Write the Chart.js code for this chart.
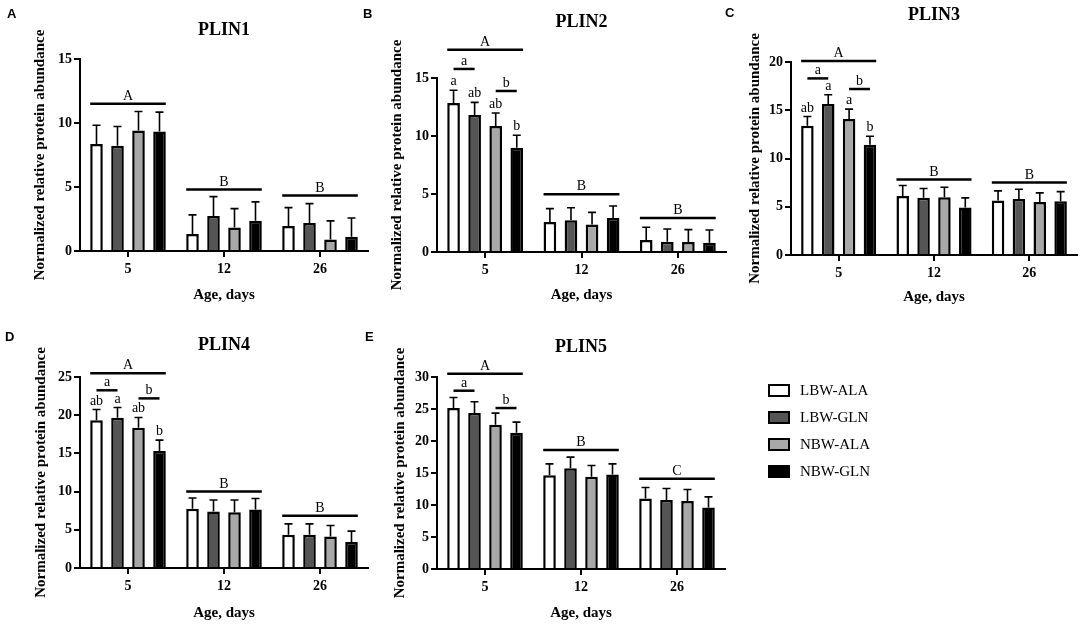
<!DOCTYPE html>
<html lang="en">
<head>
<meta charset="UTF-8">
<title>PLIN1-5 normalized relative protein abundance</title>
<script src="https://cdn.jsdelivr.net/npm/chart.js"></script>
<style>
  body { margin: 0; background: #fff; }
  #page { position: relative; width: 1084px; height: 631px; overflow: hidden; }
  #page canvas { position: absolute; left: 0; top: 0; }
  .tag { position: absolute; font: bold 13px/13px "Liberation Sans", Arial, sans-serif; color: #000; }
  #legend { position: absolute; left: 768px; top: 377px; font: 15px "Liberation Serif", "Times New Roman", serif; color: #000; }
  .item { display: flex; align-items: center; height: 27px; }
  .box { width: 18px; height: 9px; border: 2.5px solid #000; margin-right: 10px; }
</style>
</head>
<body>
<div id="page">
  <canvas id="c1" width="1084" height="631"></canvas>
  <canvas id="c2" width="1084" height="631"></canvas>
  <canvas id="c3" width="1084" height="631"></canvas>
  <canvas id="c4" width="1084" height="631"></canvas>
  <canvas id="c5" width="1084" height="631"></canvas>

  <div class="tag" style="left:7px;top:7px">A</div>
  <div class="tag" style="left:363px;top:7px">B</div>
  <div class="tag" style="left:725px;top:6px">C</div>
  <div class="tag" style="left:5px;top:330px">D</div>
  <div class="tag" style="left:365px;top:330px">E</div>

  <div id="legend"></div>
</div>

<script>
  // categories and groups
  const days = ['5', '12', '26'];
  const groups = ['LBW-ALA', 'LBW-GLN', 'NBW-ALA', 'NBW-GLN'];
  const fills = ['#ffffff', '#555555', '#a8a8a8', '#000000'];

  // means per group (rows) for day 5, 12, 26 ; sem likewise
  const plin1Mean = [[8.35, 1.33, 1.96], [8.22, 2.74, 2.19], [9.42, 1.83, 0.89], [9.34, 2.37, 1.12]];
  const plin1Sem  = [[1.48, 1.49, 1.43], [1.51, 1.51, 1.51], [1.48, 1.48, 1.46], [1.51, 1.47, 1.46]];
  const plin2Mean = [[12.84, 2.59, 1.03], [11.81, 2.73, 0.89], [10.86, 2.36, 0.86], [8.99, 2.93, 0.80]];
  const plin2Sem  = [[1.10, 1.15, 1.10], [1.09, 1.09, 1.09], [1.12, 1.06, 1.07], [1.07, 1.04, 1.10]];
  const plin3Mean = [[13.39, 6.12, 5.64], [15.64, 5.92, 5.81], [14.10, 5.99, 5.50], [11.42, 4.91, 5.57]];
  const plin3Sem  = [[0.96, 1.08, 1.00], [0.96, 0.97, 1.01], [1.02, 1.03, 0.94], [0.88, 1.01, 1.00]];
  const plin4Mean = [[19.35, 7.74, 4.35], [19.65, 7.39, 4.35], [18.35, 7.30, 4.13], [15.30, 7.65, 3.39]];
  const plin4Sem  = [[1.39, 1.43, 1.43], [1.35, 1.52, 1.43], [1.35, 1.61, 1.44], [1.44, 1.44, 1.44]];
  const plin5Mean = [[25.15, 14.66, 11.00], [24.36, 15.75, 10.80], [22.53, 14.40, 10.64], [21.28, 14.76, 9.60]];
  const plin5Sem  = [[1.65, 1.77, 1.73], [1.77, 1.73, 1.77], [1.83, 1.77, 1.78], [1.67, 1.67, 1.67]];

  // significance lines: [text, day index, from group, to group, y value]
  const plin1Sig = [['A', 0, 0, 3, 11.5], ['B', 1, 0, 3, 4.8], ['B', 2, 0, 3, 4.33]];
  const plin2Sig = [['A', 0, 0, 3, 17.44], ['a', 0, 0, 1, 15.78], ['b', 0, 2, 3, 13.88], ['B', 1, 0, 3, 4.97], ['B', 2, 0, 3, 2.93]];
  const plin3Sig = [['A', 0, 0, 3, 20.1], ['a', 0, 0, 1, 18.3], ['b', 0, 2, 3, 17.2], ['B', 1, 0, 3, 7.82], ['B', 2, 0, 3, 7.51]];
  const plin4Sig = [['A', 0, 0, 3, 25.5], ['a', 0, 0, 1, 23.26], ['b', 0, 2, 3, 22.2], ['B', 1, 0, 3, 10.0], ['B', 2, 0, 3, 6.83]];
  const plin5Sig = [['A', 0, 0, 3, 30.5], ['a', 0, 0, 1, 27.86], ['b', 0, 2, 3, 25.15], ['B', 1, 0, 3, 18.6], ['C', 2, 0, 3, 14.1]];

  // letters over the day-5 bars
  const plin2Letters = ['a', 'ab', 'ab', 'b'];
  const plin3Letters = ['ab', 'a', 'a', 'b'];
  const plin4Letters = ['ab', 'a', 'ab', 'b'];

  const serif = '"Liberation Serif", "Times New Roman", serif';
  Chart.defaults.font.family = serif;
  Chart.defaults.color = '#000';

  // error bars, significance lines, letters and panel title
  const marks = {
    id: 'marks',
    afterDatasetsDraw(chart, args, opts) {
      const ctx = chart.ctx, y = chart.scales.y, area = chart.chartArea;
      ctx.save();
      ctx.strokeStyle = '#000';
      ctx.fillStyle = '#000';

      ctx.lineWidth = 1.6;
      chart.data.datasets.forEach((ds, i) => {
        chart.getDatasetMeta(i).data.forEach((bar, j) => {
          const top = y.getPixelForValue(ds.data[j] + ds.sem[j]);
          ctx.beginPath();
          ctx.moveTo(bar.x, bar.y);
          ctx.lineTo(bar.x, top);
          ctx.moveTo(bar.x - 4, top);
          ctx.lineTo(bar.x + 4, top);
          ctx.stroke();
        });
      });

      ctx.font = '14px ' + serif;
      ctx.textAlign = 'center';
      ctx.textBaseline = 'alphabetic';
      ctx.lineWidth = 2.5;
      opts.sig.forEach(([text, day, from, to, val]) => {
        const a = chart.getDatasetMeta(from).data[day];
        const b = chart.getDatasetMeta(to).data[day];
        const whole = from === 0 && to === 3;
        const x1 = whole ? a.x - a.width / 2 : a.x;
        const x2 = whole ? b.x + b.width / 2 : b.x;
        const py = y.getPixelForValue(val);
        ctx.beginPath();
        ctx.moveTo(x1, py);
        ctx.lineTo(x2, py);
        ctx.stroke();
        ctx.fillText(text, (x1 + x2) / 2, py - 4);
      });

      (opts.letters || []).forEach((text, i) => {
        const ds = chart.data.datasets[i];
        const bar = chart.getDatasetMeta(i).data[0];
        ctx.fillText(text, bar.x, y.getPixelForValue(ds.data[0] + ds.sem[0]) - 5);
      });

      ctx.font = 'bold 18px ' + serif;
      ctx.textBaseline = 'middle';
      ctx.fillText(opts.title, (area.left + area.right) / 2, opts.titleY);
      ctx.restore();
    }
  };

  function panel(id, title, mean, sem, yMax, sig, letters, box) {
    const yW = box.x0 - box.yTitle + 9;
    const xH = box.xTitle + 9 - box.bottom;
    const grid = { display: true, drawOnChartArea: false, color: '#000', lineWidth: 2, tickLength: 6 };
    const border = { display: true, color: '#000', width: 2 };
    new Chart(document.getElementById(id), {
      type: 'bar',
      data: {
        labels: days,
        datasets: groups.map((g, i) => ({
          label: g,
          data: mean[i],
          sem: sem[i],
          backgroundColor: fills[i],
          borderColor: '#000',
          borderWidth: 2.5,
          borderSkipped: 'bottom',
          barPercentage: 0.6,
          categoryPercentage: 0.875
        }))
      },
      options: {
        responsive: false,
        animation: false,
        events: [],
        layout: {
          padding: { left: box.x0 - yW, right: 1084 - box.x1, top: box.top, bottom: 631 - box.bottom - xH }
        },
        plugins: {
          legend: { display: false },
          tooltip: { enabled: false },
          marks: { title: title, titleY: box.titleY, sig: sig, letters: letters }
        },
        scales: {
          x: {
            grid: Object.assign({ offset: false }, grid),
            border: border,
            ticks: { font: { size: 14, weight: 'bold' }, padding: 4 },
            title: { display: true, text: 'Age, days', font: { size: 15, weight: 'bold' }, padding: 0 },
            afterFit(s) { s.height = xH; }
          },
          y: {
            min: 0,
            max: yMax,
            grid: grid,
            border: border,
            ticks: { stepSize: 5, font: { size: 14, weight: 'bold' }, padding: 2 },
            title: { display: true, text: 'Normalized relative protein abundance', font: { size: 15, weight: 'bold' }, padding: 0 },
            afterFit(s) { s.width = yW; }
          }
        }
      },
      plugins: [marks]
    });
  }

  panel('c1', 'PLIN1', plin1Mean, plin1Sem, 15, plin1Sig, null,
    { x0: 80, x1: 368, top: 59, bottom: 251, yTitle: 40, xTitle: 295, titleY: 30 });
  panel('c2', 'PLIN2', plin2Mean, plin2Sem, 15, plin2Sig, plin2Letters,
    { x0: 437, x1: 726, top: 78, bottom: 252, yTitle: 397, xTitle: 295, titleY: 22 });
  panel('c3', 'PLIN3', plin3Mean, plin3Sem, 20, plin3Sig, plin3Letters,
    { x0: 791, x1: 1077, top: 62, bottom: 255, yTitle: 755, xTitle: 297, titleY: 15 });
  panel('c4', 'PLIN4', plin4Mean, plin4Sem, 25, plin4Sig, plin4Letters,
    { x0: 80, x1: 368, top: 377, bottom: 568, yTitle: 41, xTitle: 613, titleY: 345 });
  panel('c5', 'PLIN5', plin5Mean, plin5Sem, 30, plin5Sig, null,
    { x0: 437, x1: 725, top: 377, bottom: 569, yTitle: 400, xTitle: 613, titleY: 347 });

  // legend
  const legend = document.getElementById('legend');
  groups.forEach((g, i) => {
    const item = document.createElement('div');
    item.className = 'item';
    item.innerHTML = '<div class="box" style="background:' + fills[i] + '"></div>' + g;
    legend.appendChild(item);
  });
</script>
</body>
</html>
